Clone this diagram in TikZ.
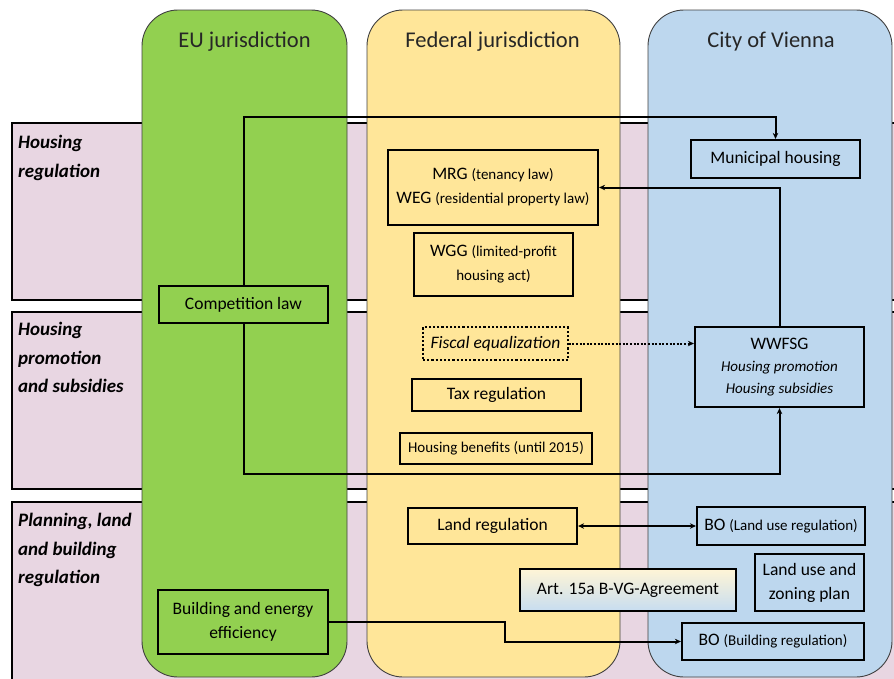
\documentclass[tikz,border=0pt]{standalone}
\usepackage{fontspec}
\setmainfont{Carlito}
\usetikzlibrary{arrows.meta}
\definecolor{eugreen}{RGB}{146,208,80}
\definecolor{fedyellow}{RGB}{255,230,153}
\definecolor{cityblue}{RGB}{189,215,238}
\definecolor{rowpink}{RGB}{232,214,226}
\newcommand{\smalltxt}[1]{{\fontsize{15}{18}\selectfont #1}}
\begin{document}
\begin{tikzpicture}[
        x=1pt, y=-1pt,
        column/.style={draw=black!75, line width=0.9pt, rounded corners=36pt},
        band/.style={draw=black, line width=2pt, fill=rowpink},
        head/.style={anchor=base, font=\fontsize{22.5}{26}\selectfont, text=black!85},
        rowlabel/.style={anchor=north west, align=left, inner sep=0pt,
            font=\fontsize{19}{28.5}\selectfont\bfseries\itshape},
        law/.style={draw=black, line width=2.2pt, inner sep=0pt, align=center,
            font=\fontsize{17.5}{24}\selectfont},
        conn/.style={line width=2pt, -{Stealth[length=6pt,width=5.5pt]}}
    ]
      \useasboundingbox (0,0) rectangle (894,678);
      \clip (0,0) rectangle (894,678);

      % Rows
      \draw[band] (12,123) rectangle (900,300);
      \draw[band] (12,312) rectangle (900,489);
      \draw[band] (12,502) rectangle (900,700);

      % Columns
      \draw[column, fill=eugreen] (142,10) rectangle (347,677);
      \draw[column, fill=fedyellow] (367,10) rectangle (620,677);
      \draw[column, fill=cityblue] (648,10) rectangle (892,677);

      \node[head] (eu) at (244.5,47.5) {EU jurisdiction};
      \node[head] (fed) at (492.5,47.5) {Federal jurisdiction};
      \node[head] (city) at (771,47.5) {City of Vienna};

      \node[rowlabel] (housreg) at (18,135) {Housing\\regulation};
      \node[rowlabel] (housprom) at (18,322) {Housing\\promotion\\and subsidies};
      \node[rowlabel] (planning) at (18,513) {Planning, land\\and building\\regulation};

      % EU level
      \node[law, fill=eugreen, minimum width=169, minimum height=37] (comp) at (243.5,304.5) {Competition law};
      \node[law, fill=eugreen, minimum width=170, minimum height=64] (build) at (243,622) {Building and energy\\efficiency};

      % Federal level
      \node[law, fill=fedyellow, minimum width=210, minimum height=75] (mrg) at (493,187.5)
        {MRG \smalltxt{(tenancy law)}\\WEG \smalltxt{(residential property law)}};
      \node[law, fill=fedyellow, minimum width=159, minimum height=63] (wgg) at (493.5,264.5)
        {WGG \smalltxt{(limited-profit}\\\smalltxt{housing act)}};
      \node[law, fill=fedyellow, dotted, line width=1.4pt, minimum width=145, minimum height=33] (fiscal) at (495.5,343.5)
        {\itshape Fiscal equalization};
      \node[law, fill=fedyellow, minimum width=169, minimum height=32] (tax) at (496.5,395) {Tax regulation};
      \node[law, fill=fedyellow, minimum width=192, minimum height=31] (benefits) at (496,448.5)
        {\smalltxt{Housing benefits (until 2015)}};
      \node[law, fill=fedyellow, minimum width=169, minimum height=36] (land) at (492.5,526) {Land regulation};
      \node[law, top color=fedyellow!40, bottom color=cityblue!85, minimum width=216, minimum height=42] (art) at (628,590)
        {Art. 15a B-VG-Agreement};

      % City level
      \node[law, fill=cityblue, minimum width=169, minimum height=38] (muni) at (775.5,159) {Municipal housing};
      \node[law, fill=cityblue, minimum width=169, minimum height=80] (wwfsg) at (779.5,367)
        {WWFSG\\[-2pt]\smalltxt{\itshape Housing promotion}\\[-2pt]\smalltxt{\itshape Housing subsidies}};
      \node[law, fill=cityblue, minimum width=168, minimum height=38] (bolu) at (781,526)
        {BO \smalltxt{(Land use regulation)}};
      \node[law, fill=cityblue, minimum width=109, minimum height=57] (zoning) at (809.5,582.5)
        {Land use and\\zoning plan};
      \node[law, fill=cityblue, minimum width=182, minimum height=37] (bobuild) at (773,641.5)
        {BO \smalltxt{(Building regulation)}};

      % Connections
      \coordinate (topturn) at (243.5,117);
      \coordinate (lowturn) at (779.5,474);
      \coordinate (buildturn) at (505,622);
      \draw[conn] (comp.north) -- (topturn) -| (muni.north);
      \draw[conn] (comp.south) |- (lowturn) -- (wwfsg.south);
      \draw[conn] (wwfsg.north) |- (mrg.east);
      \draw[conn, dash pattern=on 2pt off 1.6pt] (fiscal.east) -- (fiscal.east -| wwfsg.west);
      \draw[conn, {Stealth[length=6pt,width=5.5pt]}-{Stealth[length=6pt,width=5.5pt]}] (land.east) -- (bolu.west);
      \draw[conn] (build.east) -- (buildturn) |- (bobuild.west);
    \end{tikzpicture}
\end{document}
